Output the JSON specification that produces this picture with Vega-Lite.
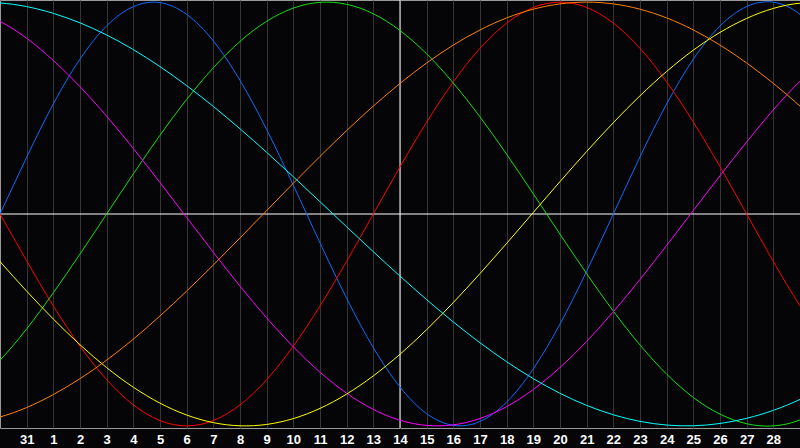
{
  "$schema": "https://vega.github.io/schema/vega-lite/v6.json",
  "width": 800,
  "height": 428,
  "autosize": "none",
  "padding": {"left": 0, "top": 0, "right": 0, "bottom": 20},
  "background": "#050507",
  "config": {
    "view": {"stroke": "#9a9a9a", "strokeWidth": 1},
    "axis": {"labelOverlap": false, "labelSeparation": 0}
  },
  "datasets": {
    "curves": [
      {"s":"physical","t":-2,"v":-0.5196},{"s":"physical","t":0,"v":0},{"s":"physical","t":2,"v":0.5196},{"s":"physical","t":4,"v":0.8879},{"s":"physical","t":6,"v":0.9977},{"s":"physical","t":8,"v":0.8170},{"s":"physical","t":10,"v":0.3984},{"s":"physical","t":12,"v":-0.1362},{"s":"physical","t":14,"v":-0.6311},{"s":"physical","t":16,"v":-0.9423},{"s":"physical","t":18,"v":-0.9791},{"s":"physical","t":20,"v":-0.7308},{"s":"physical","t":22,"v":-0.2698},{"s":"physical","t":24,"v":0.2698},{"s":"physical","t":26,"v":0.7308},{"s":"physical","t":28,"v":0.9791},{"s":"physical","t":30,"v":0.9423},{"s":"physical","t":32,"v":0.6311},
      {"s":"emotional","t":-2,"v":0.4339},{"s":"emotional","t":0,"v":0},{"s":"emotional","t":2,"v":-0.4339},{"s":"emotional","t":4,"v":-0.7818},{"s":"emotional","t":6,"v":-0.9749},{"s":"emotional","t":8,"v":-0.9749},{"s":"emotional","t":10,"v":-0.7818},{"s":"emotional","t":12,"v":-0.4339},{"s":"emotional","t":14,"v":0},{"s":"emotional","t":16,"v":0.4339},{"s":"emotional","t":18,"v":0.7818},{"s":"emotional","t":20,"v":0.9749},{"s":"emotional","t":22,"v":0.9749},{"s":"emotional","t":24,"v":0.7818},{"s":"emotional","t":26,"v":0.4339},{"s":"emotional","t":28,"v":0},{"s":"emotional","t":30,"v":-0.4339},{"s":"emotional","t":32,"v":-0.7818},
      {"s":"intellectual","t":-2,"v":-0.9096},{"s":"intellectual","t":0,"v":-0.6900},{"s":"intellectual","t":2,"v":-0.3717},{"s":"intellectual","t":4,"v":0},{"s":"intellectual","t":6,"v":0.3717},{"s":"intellectual","t":8,"v":0.6901},{"s":"intellectual","t":10,"v":0.9096},{"s":"intellectual","t":12,"v":0.9989},{"s":"intellectual","t":14,"v":0.9450},{"s":"intellectual","t":16,"v":0.7557},{"s":"intellectual","t":18,"v":0.4582},{"s":"intellectual","t":20,"v":0.0950},{"s":"intellectual","t":22,"v":-0.2817},{"s":"intellectual","t":24,"v":-0.6182},{"s":"intellectual","t":26,"v":-0.8660},{"s":"intellectual","t":28,"v":-0.9898},{"s":"intellectual","t":30,"v":-0.9718},{"s":"intellectual","t":32,"v":-0.8146},
      {"s":"intuitive","t":-2,"v":0.9951},{"s":"intuitive","t":0,"v":0.9090},{"s":"intuitive","t":2,"v":0.7245},{"s":"intuitive","t":4,"v":0.4613},{"s":"intuitive","t":6,"v":0.1483},{"s":"intuitive","t":8,"v":-0.1809},{"s":"intuitive","t":10,"v":-0.4905},{"s":"intuitive","t":12,"v":-0.7468},{"s":"intuitive","t":14,"v":-0.9223},{"s":"intuitive","t":16,"v":-0.9978},{"s":"intuitive","t":18,"v":-0.9652},{"s":"intuitive","t":20,"v":-0.8279},{"s":"intuitive","t":22,"v":-0.6011},{"s":"intuitive","t":24,"v":-0.3090},{"s":"intuitive","t":26,"v":0.0166},{"s":"intuitive","t":28,"v":0.3402},{"s":"intuitive","t":30,"v":0.6271},{"s":"intuitive","t":32,"v":0.8461},
      {"s":"aesthetic","t":-2,"v":0.0658},{"s":"aesthetic","t":0,"v":-0.2246},{"s":"aesthetic","t":2,"v":-0.4958},{"s":"aesthetic","t":4,"v":-0.7250},{"s":"aesthetic","t":6,"v":-0.8927},{"s":"aesthetic","t":8,"v":-0.9847},{"s":"aesthetic","t":10,"v":-0.9932},{"s":"aesthetic","t":12,"v":-0.9175},{"s":"aesthetic","t":14,"v":-0.7639},{"s":"aesthetic","t":16,"v":-0.5456},{"s":"aesthetic","t":18,"v":-0.2811},{"s":"aesthetic","t":20,"v":0.0073},{"s":"aesthetic","t":22,"v":0.2951},{"s":"aesthetic","t":24,"v":0.5579},{"s":"aesthetic","t":26,"v":0.7733},{"s":"aesthetic","t":28,"v":0.9232},{"s":"aesthetic","t":30,"v":0.9948},{"s":"aesthetic","t":32,"v":0.9820},
      {"s":"awareness","t":-2,"v":-0.9995},{"s":"awareness","t":0,"v":-0.9578},{"s":"awareness","t":2,"v":-0.8522},{"s":"awareness","t":4,"v":-0.6898},{"s":"awareness","t":6,"v":-0.4811},{"s":"awareness","t":8,"v":-0.2406},{"s":"awareness","t":10,"v":0.0162},{"s":"awareness","t":12,"v":0.2718},{"s":"awareness","t":14,"v":0.5094},{"s":"awareness","t":16,"v":0.7128},{"s":"awareness","t":18,"v":0.8687},{"s":"awareness","t":20,"v":0.9666},{"s":"awareness","t":22,"v":1.0},{"s":"awareness","t":24,"v":0.9666},{"s":"awareness","t":26,"v":0.8687},{"s":"awareness","t":28,"v":0.7128},{"s":"awareness","t":30,"v":0.5094},{"s":"awareness","t":32,"v":0.2718},
      {"s":"spiritual","t":-2,"v":0.9892},{"s":"spiritual","t":0,"v":0.9959},{"s":"spiritual","t":2,"v":0.9469},{"s":"spiritual","t":4,"v":0.8450},{"s":"spiritual","t":6,"v":0.6957},{"s":"spiritual","t":8,"v":0.5076},{"s":"spiritual","t":10,"v":0.2909},{"s":"spiritual","t":12,"v":0.0581},{"s":"spiritual","t":14,"v":-0.1781},{"s":"spiritual","t":16,"v":-0.4042},{"s":"spiritual","t":18,"v":-0.6078},{"s":"spiritual","t":20,"v":-0.7772},{"s":"spiritual","t":22,"v":-0.9034},{"s":"spiritual","t":24,"v":-0.9788},{"s":"spiritual","t":26,"v":-0.9995},{"s":"spiritual","t":28,"v":-0.9643},{"s":"spiritual","t":30,"v":-0.8751},{"s":"spiritual","t":32,"v":-0.7370}
    ]
  },
  "layer": [
    {
      "data": {"values": [{"t": 15}]},
      "mark": {"type": "rule", "color": "#ffffff", "strokeWidth": 1},
      "encoding": {
        "x": {
          "field": "t",
          "type": "quantitative",
          "scale": {"domain": [0, 30], "nice": false, "zero": false},
          "axis": {
            "values": [1,2,3,4,5,6,7,8,9,10,11,12,13,14,15,16,17,18,19,20,21,22,23,24,25,26,27,28,29],
            "grid": true,
            "gridColor": "#363636",
            "gridWidth": 1,
            "ticks": false,
            "domain": false,
            "labelColor": "#ffffff",
            "labelFont": "Liberation Sans",
            "labelFontWeight": "bold",
            "labelFontSize": 13,
            "labelPadding": 5,
            "labelFlush": false,
            "labelOverlap": false,
            "labelSeparation": 0,
            "labelExpr": "datum.value == 1 ? '31' : '' + (datum.value - 1)",
            "title": null
          }
        }
      }
    },
    {
      "data": {"values": [{"v": 0}]},
      "mark": {"type": "rule", "color": "#ffffff", "strokeWidth": 1},
      "encoding": {
        "y": {"field": "v", "type": "quantitative", "scale": {"domain": [-1.01, 1.01], "nice": false, "zero": false}, "axis": null}
      }
    },
    {
      "data": {"name": "curves"},
      "mark": {"type": "line", "strokeWidth": 1, "interpolate": "natural", "clip": true},
      "encoding": {
        "x": {
          "field": "t",
          "type": "quantitative",
          "axis": {
            "values": [1,2,3,4,5,6,7,8,9,10,11,12,13,14,15,16,17,18,19,20,21,22,23,24,25,26,27,28,29],
            "grid": true,
            "gridColor": "#363636",
            "gridWidth": 1,
            "ticks": false,
            "domain": false,
            "labelColor": "#ffffff",
            "labelFont": "Liberation Sans",
            "labelFontWeight": "bold",
            "labelFontSize": 13,
            "labelPadding": 5,
            "labelFlush": false,
            "labelOverlap": false,
            "labelSeparation": 0,
            "labelExpr": "datum.value == 1 ? '31' : '' + (datum.value - 1)",
            "title": null
          }
        },
        "y": {"field": "v", "type": "quantitative"},
        "color": {
          "field": "s",
          "type": "nominal",
          "scale": {
            "domain": ["physical", "emotional", "intellectual", "intuitive", "aesthetic", "awareness", "spiritual"],
            "range": ["#0a6cff", "#ff0000", "#10e010", "#ff00ff", "#ffff00", "#ff8000", "#00ffff"]
          },
          "legend": null
        }
      }
    }
  ]
}
